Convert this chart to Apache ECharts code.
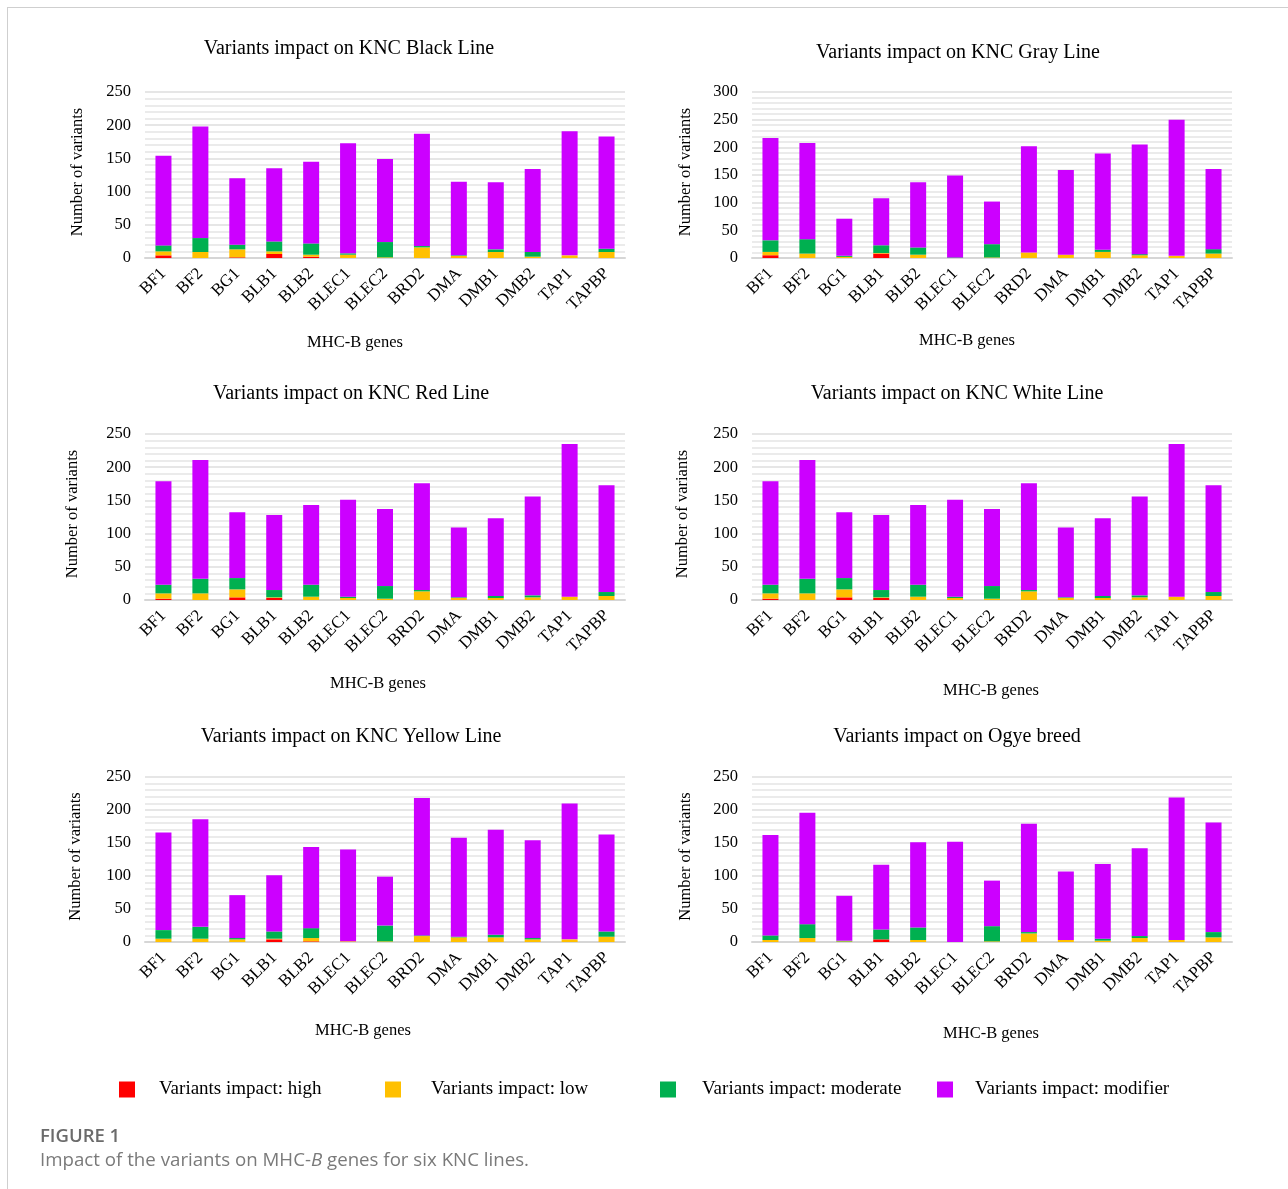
<!DOCTYPE html>
<html>
<head>
<meta charset="utf-8">
<script src="https://cdn.jsdelivr.net/npm/echarts@6/dist/echarts.min.js"></script>
<style>
  html, body { margin: 0; padding: 0; background: #fff; }
  #frame { position: absolute; left: 7px; top: 7px; width: 1281px; height: 1182px;
           border-left: 1.5px solid #cfcfcf; border-top: 1.5px solid #cfcfcf; box-sizing: border-box; }
  #chart { position: absolute; left: 0; top: 0; width: 1288px; height: 1189px; }
</style>
</head>
<body>
<div id="frame"></div>
<div id="chart"></div>
<script>
const genes = ['BF1','BF2','BG1','BLB1','BLB2','BLEC1','BLEC2','BRD2','DMA','DMB1','DMB2','TAP1','TAPBP'];
const impactNames = ['Variants impact: high','Variants impact: low','Variants impact: moderate','Variants impact: modifier'];
const yTicksTall = [0,50,100,150,200,250,300];
const yTicksShort = [0,50,100,150,200,250];

// KNC Black Line
const blackHigh     = [4,0,1,6,2,0,0,0,0,0,0,0,0];
const blackLow      = [6,9,12,4,3,5,1,16,3,9,2,4,9];
const blackModerate = [9,21,7,15,17,2,23,2,1,4,7,0,5];
const blackModifier = [135,168,100,110,123,166,125,169,111,101,125,187,169];

// KNC Gray Line
const grayHigh     = [5,0,0,8,0,0,0,0,0,0,0,0,0];
const grayLow      = [6,8,2,1,6,0,1,10,6,11,5,4,8];
const grayModerate = [21,26,2,14,13,1,24,0,0,4,2,0,8];
const grayModifier = [185,174,67,85,118,148,77,192,153,174,198,246,145];

// KNC Red Line
const redHigh     = [2,0,4,3,0,0,0,0,0,0,0,0,0];
const redLow      = [8,10,12,1,5,3,2,13,3,3,4,5,6];
const redModerate = [13,22,17,11,18,2,19,2,1,3,3,0,6];
const redModifier = [156,179,99,113,120,146,116,161,105,117,149,230,161];

// KNC White Line
const whiteHigh     = [2,0,4,3,0,0,0,0,0,0,0,0,0];
const whiteLow      = [8,10,12,1,5,3,2,13,3,3,4,5,6];
const whiteModerate = [13,22,17,11,18,2,19,2,1,3,3,0,6];
const whiteModifier = [156,179,99,113,120,146,116,161,105,117,149,230,161];

// KNC Yellow Line
const yellowHigh     = [0,0,0,4,1,0,0,0,0,0,0,0,0];
const yellowLow      = [5,5,4,1,5,1,1,9,7,7,4,4,8];
const yellowModerate = [13,18,2,11,15,0,24,1,1,4,2,0,8];
const yellowModifier = [148,163,65,85,123,139,74,208,150,159,148,206,147];

// Ogye breed
const ogyeHigh     = [0,0,0,4,0,0,0,0,0,0,0,0,0];
const ogyeLow      = [3,6,1,0,3,0,1,13,3,2,6,3,7];
const ogyeModerate = [7,21,1,15,19,0,23,2,0,3,3,0,8];
const ogyeModifier = [152,169,68,98,129,152,69,164,104,113,133,216,166];

const colors = ['#FF0000','#FFC000','#00B050','#CC00FF'];
const SERIF = '"Liberation Serif", "Times New Roman", serif';

const panels = [
  { title: 'Variants impact on KNC Black Line', data: [blackHigh, blackLow, blackModerate, blackModifier], ticks: yTicksShort,
    grid: {left:145, top:92, width:480, height:166}, tx:349, ty:48, nx:355, ny:343, yx:78 },
  { title: 'Variants impact on KNC Gray Line', data: [grayHigh, grayLow, grayModerate, grayModifier], ticks: yTicksTall,
    grid: {left:752, top:92, width:480, height:166}, tx:958, ty:52, nx:967, ny:341, yx:686 },
  { title: 'Variants impact on KNC Red Line', data: [redHigh, redLow, redModerate, redModifier], ticks: yTicksShort,
    grid: {left:145, top:434, width:480, height:166}, tx:351, ty:393, nx:378, ny:684, yx:73 },
  { title: 'Variants impact on KNC White Line', data: [whiteHigh, whiteLow, whiteModerate, whiteModifier], ticks: yTicksShort,
    grid: {left:752, top:434, width:480, height:166}, tx:957, ty:393, nx:991, ny:691, yx:683 },
  { title: 'Variants impact on KNC Yellow Line', data: [yellowHigh, yellowLow, yellowModerate, yellowModifier], ticks: yTicksShort,
    grid: {left:145, top:777, width:480, height:165}, tx:351, ty:736, nx:363, ny:1031, yx:76 },
  { title: 'Variants impact on Ogye breed', data: [ogyeHigh, ogyeLow, ogyeModerate, ogyeModifier], ticks: yTicksShort,
    grid: {left:752, top:777, width:480, height:165}, tx:957, ty:736, nx:991, ny:1034, yx:686 }
];

const grids = [], xAxes = [], yAxes = [], series = [], graphics = [];
panels.forEach((p, i) => {
  grids.push(Object.assign({containLabel:false}, p.grid));
  xAxes.push({
    type: 'category', gridIndex: i, data: genes,
    axisTick: {show:false},
    axisLine: {lineStyle: {color:'#d6d6d6', width:2}},
    axisLabel: {rotate:45, margin:13, color:'#000', fontFamily:SERIF, fontSize:17, interval:0}
  });
  const maxV = p.ticks[p.ticks.length - 1];
  yAxes.push({
    type: 'value', gridIndex: i, min: p.ticks[0], max: maxV, interval: 50,
    axisLine: {show:false}, axisTick: {show:false},
    axisLabel: {color:'#000', fontFamily:SERIF, fontSize:16.5, margin:14},
    splitLine: {lineStyle: {color:'#e6e6e6', width:2}},
    minorTick: {show:false, splitNumber:5},
    minorSplitLine: {show:true, lineStyle: {color:'#ebebeb', width:2}}
  });
  p.data.forEach((arr, k) => {
    series.push({
      name: impactNames[k], type: 'bar', stack: 'panel' + i,
      xAxisIndex: i, yAxisIndex: i, data: arr, barWidth: 16,
      itemStyle: {color: colors[k]}, emphasis: {disabled:true}
    });
  });
  graphics.push({type:'text', x:p.tx, y:p.ty + 1,
    style:{text:p.title, font:'20px ' + SERIF, fill:'#000', align:'center', verticalAlign:'middle'}});
  graphics.push({type:'text', x:p.nx, y:p.ny,
    style:{text:'MHC-B genes', font:'16.5px ' + SERIF, fill:'#000', align:'center', verticalAlign:'middle'}});
  graphics.push({type:'text', x:p.yx, y:p.grid.top + p.grid.height/2 - 3, rotation: Math.PI/2,
    style:{text:'Number of variants', font:'16.5px ' + SERIF, fill:'#000', align:'center', verticalAlign:'middle'}});
});

// Caption
graphics.push({type:'text', x:40, y:1137,
  style:{text:'FIGURE 1', font:'600 18.5px "Open Sans", sans-serif', fill:'#6b6b6b', align:'left', verticalAlign:'middle'}});
graphics.push({type:'text', x:40, y:1161,
  style:{text:'{n|Impact of the variants on MHC-}{i|B}{n| genes for six KNC lines.}', align:'left', verticalAlign:'middle',
    rich:{ n:{font:'18.7px "Open Sans", sans-serif', fill:'#7a7a7a'}, i:{font:'italic 18.7px "Open Sans", sans-serif', fill:'#7a7a7a'} } }});

const legendLefts = [114, 380, 655, 932];
const legendPads = [19, 25, 21, 17];
const legends = impactNames.map((n, k) => ({
  data: [n], left: legendLefts[k], top: 1075, itemWidth: 16, itemHeight: 16, icon: 'rect',
  selectedMode: false,
  textStyle: {fontFamily: SERIF, fontSize: 19, color:'#000', padding:[0,0,0,legendPads[k]]}
}));

const chart = echarts.init(document.getElementById('chart'), null, {renderer:'canvas'});
chart.setOption({
  animation: false,
  color: colors,
  grid: grids, xAxis: xAxes, yAxis: yAxes, series: series,
  legend: legends,
  graphic: graphics
});
</script>
</body>
</html>
